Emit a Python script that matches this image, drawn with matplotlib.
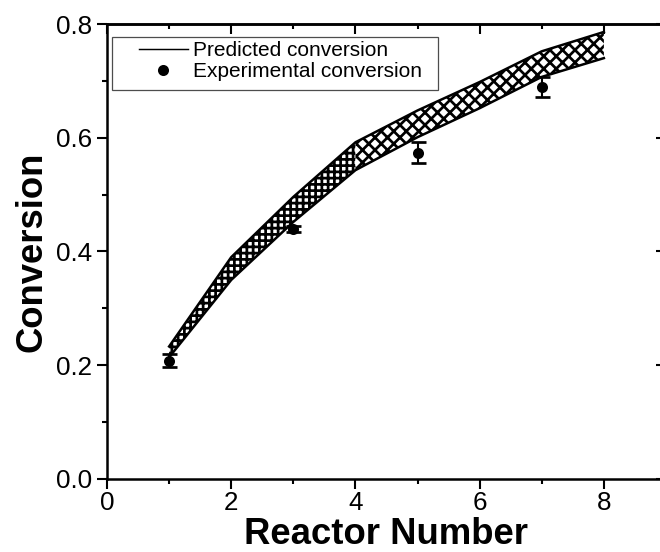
import matplotlib
matplotlib.use('Agg')
import numpy as np
import matplotlib.pyplot as plt
from matplotlib.patches import Rectangle
from matplotlib.ticker import MultipleLocator, FormatStrFormatter

plt.rcParams['font.family'] = ['Liberation Sans', 'DejaVu Sans']
plt.rcParams['hatch.linewidth'] = 1.3
plt.rcParams['hatch.color'] = 'black'

# predicted conversion band (lower / upper bound) per reactor
reactor = [1, 2, 3, 4, 5, 6, 7, 8]
pred_low = [0.214, 0.350, 0.452, 0.543, 0.601, 0.652, 0.707, 0.740]
pred_high = [0.233, 0.390, 0.496, 0.592, 0.648, 0.698, 0.752, 0.786]

# measured conversion with error
exp_reactor = [1, 3, 5, 7]
exp_conv = [0.208, 0.439, 0.574, 0.689]
exp_err = [0.011, 0.005, 0.018, 0.018]

x = np.array(reactor)
lo = np.array(pred_low)
hi = np.array(pred_high)

fig = plt.figure(figsize=(4.4, 3.68), dpi=150)
ax = fig.add_axes([107 / 660, 73 / 552, 559 / 660, 455 / 552])

first = x <= 4
second = x >= 4
ax.fill_between(x[first], lo[first], hi[first], facecolor='white',
                edgecolor='black', linewidth=0, hatch='++++')
ax.fill_between(x[second], lo[second], hi[second], facecolor='white',
                edgecolor='black', linewidth=0, hatch='xxxx')
ax.plot(x, hi, color='black', lw=1.2, label='Predicted conversion')
ax.plot(x, lo, color='black', lw=1.2)

ax.errorbar(exp_reactor, exp_conv, yerr=exp_err, fmt='o', color='black',
            ms=4.3, capsize=3.6, capthick=1.3, elinewidth=1.0, zorder=5)
ax.plot([], [], 'o', color='black', ms=4.3, label='Experimental conversion')

ax.set_xlim(0, 9)
ax.set_ylim(0, 0.8)
ax.xaxis.set_major_locator(MultipleLocator(2))
ax.xaxis.set_minor_locator(MultipleLocator(1))
ax.yaxis.set_major_locator(MultipleLocator(0.2))
ax.yaxis.set_minor_locator(MultipleLocator(0.1))
ax.yaxis.set_major_formatter(FormatStrFormatter('%.1f'))

ax.tick_params(which='both', direction='out', width=1.0, top=False, right=False)
ax.tick_params(which='major', length=4.8)
ax.tick_params(which='minor', length=2.6)
ax.tick_params(axis='y', pad=2.4, labelsize=12.5)
ax.tick_params(axis='x', pad=1.0, labelsize=12.5)
for s in ax.spines.values():
    s.set_linewidth(1.2)

# mirrored axes with inward ticks
top = ax.secondary_xaxis('top')
top.xaxis.set_major_locator(MultipleLocator(2))
top.xaxis.set_minor_locator(MultipleLocator(1))
top.tick_params(which='both', direction='in', width=1.0, labeltop=False)
top.tick_params(which='major', length=4.8)
top.tick_params(which='minor', length=2.6)
top.spines['top'].set_linewidth(1.2)

right = ax.secondary_yaxis('right')
right.yaxis.set_major_locator(MultipleLocator(0.2))
right.yaxis.set_minor_locator(MultipleLocator(0.1))
right.tick_params(which='both', direction='in', width=1.0, labelright=False)
right.tick_params(which='major', length=4.8)
right.tick_params(which='minor', length=2.6)
right.spines['right'].set_linewidth(1.2)

ax.set_xlabel('Reactor Number', fontsize=17.5, fontweight='bold', labelpad=1)
ax.set_ylabel('Conversion', fontsize=17.5, fontweight='bold', labelpad=3)

leg = ax.legend(loc='upper left', bbox_to_anchor=(0.0572, 0.963), borderaxespad=0,
                borderpad=0, frameon=False, fontsize=10, handlelength=2.35,
                handletextpad=0.25, labelspacing=0.1)
leg.get_lines()[0].set_linewidth(0.7)
ax.add_patch(Rectangle((0.0089, 0.855), 0.583, 0.116, transform=ax.transAxes,
                       fill=False, edgecolor='0.3', linewidth=0.6, zorder=4))

fig.savefig('out.png', dpi=150)
